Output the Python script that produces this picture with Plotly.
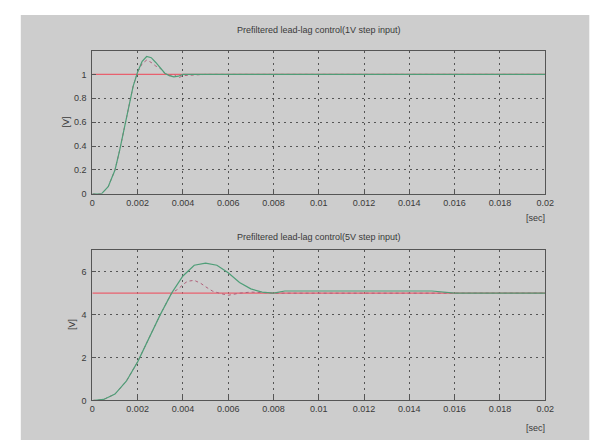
import plotly.graph_objects as go

# ---- data ----
t1_green = [0, 0.0004, 0.0007, 0.001, 0.0012, 0.0014, 0.0016, 0.0018, 0.002, 0.0022,
            0.0024, 0.0026, 0.0028, 0.003, 0.0032, 0.0034, 0.0036, 0.0038, 0.004, 0.005, 0.02]
v1_green = [0, 0.0, 0.06, 0.2, 0.36, 0.55, 0.74, 0.9, 1.02, 1.11,
            1.15, 1.14, 1.1, 1.05, 1.01, 0.99, 0.98, 0.985, 1.0, 1.0, 1.0]
t1_dash = [0, 0.0004, 0.0007, 0.001, 0.0012, 0.0014, 0.0016, 0.0018, 0.002, 0.0022,
           0.0024, 0.0026, 0.0028, 0.003, 0.0032, 0.0034, 0.0036, 0.0038, 0.004, 0.005, 0.02]
v1_dash = [0, 0.0, 0.06, 0.2, 0.36, 0.55, 0.74, 0.9, 1.02, 1.09,
           1.12, 1.1, 1.07, 1.05, 1.01, 0.99, 1.0, 0.97, 0.99, 1.0, 1.0]
t2_green = [0, 0.0005, 0.001, 0.0015, 0.002, 0.0025, 0.003, 0.0035, 0.004, 0.0045, 0.005,
            0.0055, 0.006, 0.0065, 0.007, 0.0075, 0.008, 0.0085, 0.015, 0.016, 0.02]
v2_green = [0, 0.05, 0.3, 0.9, 1.8, 2.9, 4.0, 5.0, 5.8, 6.3, 6.4,
            6.3, 5.95, 5.5, 5.2, 5.05, 5.0, 5.1, 5.1, 5.0, 5.0]
t2_dash = [0, 0.0005, 0.001, 0.0015, 0.002, 0.0025, 0.003, 0.0035, 0.0038, 0.004, 0.0042,
           0.0045, 0.0048, 0.005, 0.0053, 0.0056, 0.006, 0.0065, 0.007, 0.008, 0.02]
v2_dash = [0, 0.05, 0.3, 0.9, 1.8, 2.9, 4.0, 5.0, 5.2, 5.4, 5.55,
           5.6, 5.45, 5.3, 5.1, 5.0, 4.9, 5.0, 5.05, 5.0, 5.0]
ref_top = 1.0
ref_bot = 5.0
x_ticks = [0, 0.002, 0.004, 0.006, 0.008, 0.01, 0.012, 0.014, 0.016, 0.018, 0.02]
x_ticklabels = ["0", "0.002", "0.004", "0.006", "0.008", "0.01", "0.012", "0.014", "0.016", "0.018", "0.02"]
y1_ticks = [0, 0.2, 0.4, 0.6, 0.8, 1]
y1_ticklabels = ["0", "0.2", "0.4", "0.6", "0.8", "1"]
y2_ticks = [0, 2, 4, 6]
title_top = "Prefiltered lead-lag control(1V step input)"
title_bot = "Prefiltered lead-lag control(5V step input)"

W, H = 605, 441
GREEN = "#4f9e78"
RED = "#e8606e"
MAG = "#b0607a"
TXT = "#3a3a3a"

fig = go.Figure()
fig.add_trace(go.Scatter(x=[0, 0.02], y=[ref_top, ref_top], mode="lines",
                         line=dict(color=RED, width=1.2), xaxis="x", yaxis="y"))
fig.add_trace(go.Scatter(x=t1_dash, y=v1_dash, mode="lines",
                         line=dict(color=MAG, width=1, dash="3px,3px"), xaxis="x", yaxis="y"))
fig.add_trace(go.Scatter(x=t1_green, y=v1_green, mode="lines",
                         line=dict(color=GREEN, width=1.2), xaxis="x", yaxis="y"))
fig.add_trace(go.Scatter(x=[0, 0.02], y=[ref_bot, ref_bot], mode="lines",
                         line=dict(color=RED, width=1.2), xaxis="x2", yaxis="y2"))
fig.add_trace(go.Scatter(x=t2_dash, y=v2_dash, mode="lines",
                         line=dict(color=MAG, width=1, dash="3px,3px"), xaxis="x2", yaxis="y2"))
fig.add_trace(go.Scatter(x=t2_green, y=v2_green, mode="lines",
                         line=dict(color=GREEN, width=1.2), xaxis="x2", yaxis="y2"))

font = dict(family="Liberation Sans, Arial, sans-serif", size=9, color=TXT)
dom_x = [83 / W, 545 / W]


def ax(**kw):
    d = dict(showline=True, linecolor="#555", linewidth=1, mirror=True,
             showgrid=True, gridcolor="#555", griddash="2px,4px", gridwidth=1,
             ticks="inside", ticklen=4, tickcolor="#555", zeroline=False,
             tickfont=font)
    d.update(kw)
    return d


def note(text, x, y, **kw):
    d = dict(text=text, x=x / W, y=1 - y / H, xref="paper", yref="paper",
             xanchor="center", yanchor="middle", showarrow=False, font=font)
    d.update(kw)
    return d


fig.update_layout(
    width=W, height=H, margin=dict(l=0, r=0, t=0, b=0),
    paper_bgcolor="white", plot_bgcolor="white", showlegend=False,
    font=font,
    xaxis=ax(domain=dom_x, range=[0, 0.02], tickvals=x_ticks, ticktext=x_ticklabels, anchor="y"),
    yaxis=ax(domain=[1 - 188 / H, 1 - 43 / H], range=[0, 1.2], tickvals=y1_ticks,
             ticktext=y1_ticklabels, anchor="x", ticklabelstandoff=3),
    xaxis2=ax(domain=dom_x, range=[0, 0.02], tickvals=x_ticks, ticktext=x_ticklabels, anchor="y2"),
    yaxis2=ax(domain=[1 - 397 / H, 1 - 245 / H], range=[0, 7], tickvals=y2_ticks, anchor="x2",
              ticklabelstandoff=3),
    shapes=[dict(type="rect", xref="paper", yref="paper", x0=10 / W, x1=590 / W,
                 y0=1 - 437 / H, y1=1 - 7 / H, fillcolor="#cdcdcd", line=dict(width=0),
                 layer="below")],
    annotations=[
        note(title_top, 314, 22),
        note(title_bot, 314, 232),
        note("[sec]", 535, 212),
        note("[sec]", 535, 425),
        note("[V]", 56, 115, textangle=-90),
        note("[V]", 63, 320, textangle=-90),
    ],
)

fig.write_html("out.html")
